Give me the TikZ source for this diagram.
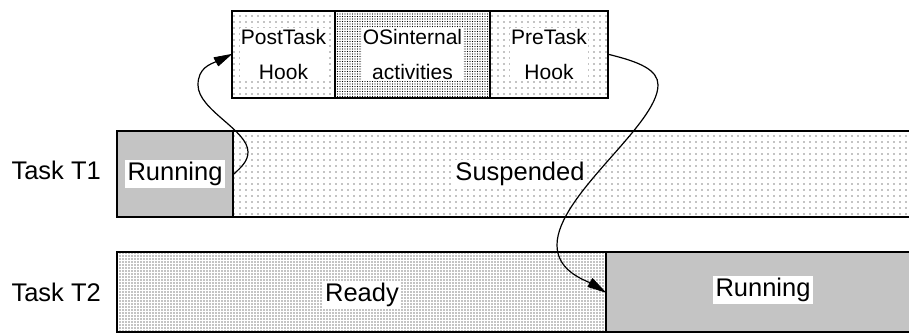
\documentclass[tikz,border=0pt]{standalone}
\usepackage{fontspec}
\setmainfont{Liberation Sans}
\usetikzlibrary{patterns.meta}
\begin{document}
\begin{tikzpicture}[x=1pt,y=1pt]
\tikzset{
  cell/.style={draw, line width=2pt, inner sep=0pt, anchor=north west},
  sparse/.style={pattern={Dots[distance=6pt,radius=0.7pt]}},
  medium/.style={pattern={Dots[distance=3pt,radius=0.7pt]}},
  dense/.style={pattern={Dots[distance=2.5pt,radius=0.6pt]}},
  grayfill/.style={pattern={Dots[distance=2pt,radius=0.7pt]}},
  lbl/.style={fill=white, inner sep=2.5pt, font=\fontsize{25.5}{30}\selectfont},
  side/.style={inner sep=0pt, anchor=east, font=\fontsize{25.5}{30}\selectfont},
  hook/.style={fill=white, inner sep=1pt, align=center, font=\fontsize{21}{35}\selectfont},
  flow/.style={draw=black, line width=1.2pt},
  tiphead/.style={draw=black, fill=black, line width=0.8pt, line join=round}
}
\useasboundingbox (0,0) rectangle (909,-334);
% top box
\node[cell, sparse, minimum width=103pt, minimum height=87pt] (post) at (231,-10) {};
\node[cell, dense, minimum width=155pt, minimum height=87pt] (os) at (334,-10) {};
\node[cell, sparse, minimum width=118pt, minimum height=87pt] (pre) at (489,-10) {};
\node[hook] (postl) at (post.center) {PostTask\\Hook};
\node[hook] (osl) at (os.center) {OSinternal\\activities};
\node[hook] (prel) at (pre.center) {PreTask\\Hook};
% task T1
\node[cell, grayfill, minimum width=116pt, minimum height=86pt] (t1run) at (116,-130) {};
\node[cell, sparse, minimum width=679pt, minimum height=86pt] (t1sus) at (232,-130) {};
\node[lbl] (t1runl) at (t1run.center) {Running};
\node[lbl] (t1susl) at (520,-174) {Suspended};
\node[side] (t1) at (101,-170) {Task T1};
% task T2
\node[cell, medium, minimum width=489pt, minimum height=80pt] (t2rdy) at (116,-251) {};
\node[cell, grayfill, minimum width=306pt, minimum height=80pt] (t2run) at (605,-251) {};
\node[lbl] (t2rdyl) at (362,-295) {Ready};
\node[lbl] (t2runl) at (763,-290) {Running};
\node[side] (t2) at (101,-292) {Task T2};
% connectors
\coordinate (tipA) at (post.west);
\coordinate (tipB) at (t2run.west);
\draw[flow] (t1run.east) .. controls (240,-168) and (248,-162) .. (248,-152)
  .. controls (248,-130) and (198,-110) .. (198,-85)
  .. controls (198,-68) and (210,-64) .. (218,-61);
\filldraw[tiphead] (tipA) -- (213.9,-57.7) -- (218.4,-65.8) -- cycle;
\draw[flow] (pre.east) .. controls (640,-62) and (658,-70) .. (658,-85)
  .. controls (658,-125) and (557,-195) .. (557,-245)
  .. controls (557,-268) and (578,-278) .. (592,-283.5);
\filldraw[tiphead] (tipB) -- (592.5,-278.6) -- (587.9,-286.6) -- cycle;
\end{tikzpicture}
\end{document}
